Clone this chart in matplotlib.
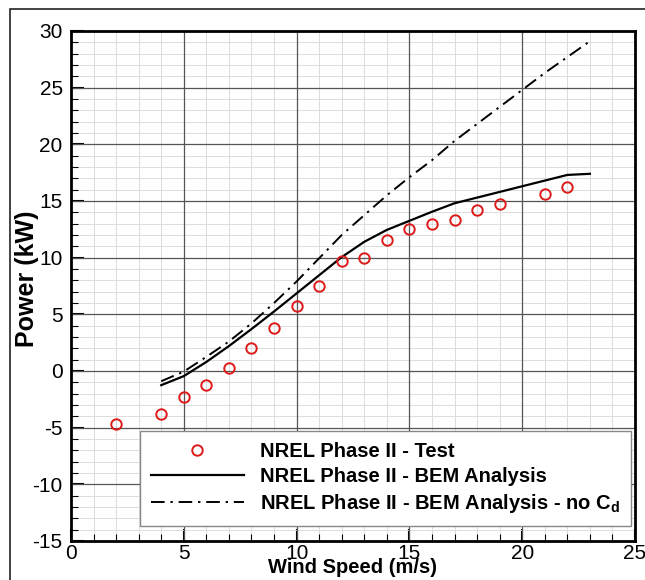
import matplotlib
matplotlib.use("Agg")
import matplotlib.pyplot as plt
from matplotlib.ticker import MultipleLocator
from matplotlib.patches import Rectangle

# Data
test_x = [2, 4, 5, 6, 7, 8, 9, 10, 11, 12, 13, 14, 15, 16, 17, 18, 19, 21, 22]
test_y = [-4.65, -3.8, -2.3, -1.2, 0.3, 2.05, 3.78, 5.73, 7.52, 9.7, 9.95, 11.55,
          12.55, 12.94, 13.3, 14.23, 14.73, 15.6, 16.2]

bem_x = [4, 5, 6, 7, 8, 9, 10, 11, 12, 13, 14, 15, 16, 17, 18, 19, 20, 21, 22, 23]
bem_y = [-1.25, -0.45, 0.8, 2.2, 3.7, 5.25, 6.85, 8.45, 10.05, 11.4, 12.45, 13.25,
         14.05, 14.8, 15.3, 15.8, 16.3, 16.8, 17.3, 17.4]

nocd_x = [4, 5, 6, 7, 8, 9, 10, 11, 12, 13, 14, 15, 16, 17, 18, 19, 20, 21, 22, 23]
nocd_y = [-0.9, -0.05, 1.25, 2.6, 4.2, 6.0, 7.9, 9.95, 12.0, 13.75, 15.5, 17.1,
          18.6, 20.3, 21.8, 23.3, 24.8, 26.3, 27.7, 29.1]

labels = ["NREL Phase II - Test", "NREL Phase II - BEM Analysis",
          "NREL Phase II - BEM Analysis - no C$_\\mathregular{d}$"]

plt.rcParams['font.family'] = ['Liberation Sans', 'DejaVu Sans']
plt.rcParams['mathtext.fontset'] = 'custom'
plt.rcParams['mathtext.rm'] = 'Liberation Sans:bold'
plt.rcParams['axes.unicode_minus'] = False

fig = plt.figure(figsize=(6.45, 5.8), dpi=100)
fig.patches.append(Rectangle((10 / 645, -0.1), 1.2, 1 - 9 / 580 + 0.1,
                             transform=fig.transFigure, fill=False,
                             edgecolor='#222222', linewidth=1.2, zorder=0))
ax = fig.add_axes([71 / 645, 1 - 541 / 580, 564 / 645, 510 / 580])

ax.plot(test_x, test_y, linestyle='none', marker='o', markersize=7.5,
        markerfacecolor='none', markeredgecolor='#dd1a1a', markeredgewidth=1.4,
        label=labels[0], zorder=4)
ax.plot(bem_x, bem_y, color='black', linewidth=1.6, label=labels[1], zorder=3)
ax.plot(nocd_x, nocd_y, color='black', linewidth=1.4,
        linestyle=(0, (7, 3, 1.2, 3)), label=labels[2], zorder=3)

ax.set_xlim(0, 25)
ax.set_ylim(-15, 30)
ax.xaxis.set_major_locator(MultipleLocator(5))
ax.yaxis.set_major_locator(MultipleLocator(5))
ax.xaxis.set_minor_locator(MultipleLocator(1))
ax.yaxis.set_minor_locator(MultipleLocator(1))

# minor grid (below), major grid drawn on top of it
ax.grid(which='minor', color='#dcdcdc', linewidth=0.7)
ax.set_axisbelow(True)
for xv in ax.get_xticks():
    if 0 < xv < 25:
        ax.axvline(xv, color='#555555', linewidth=0.9, zorder=1)
for yv in ax.get_yticks():
    if -15 < yv < 30:
        ax.axhline(yv, color='#555555', linewidth=0.9, zorder=1)

for s in ax.spines.values():
    s.set_linewidth(2.0)
    s.set_color('black')

ax.tick_params(which='major', direction='in', length=9, width=1.5,
               labelsize=15, top=False, right=False)
ax.tick_params(which='minor', direction='in', length=5, width=0.8,
               top=False, right=False)
ax.tick_params(axis='x', which='major', pad=2.5)
ax.tick_params(axis='y', which='major', pad=6)

ax.set_xlabel('Wind Speed (m/s)', fontsize=14.5, fontweight='bold')
ax.set_ylabel('Power (kW)', fontsize=18, fontweight='bold')
ax.xaxis.set_label_coords(0.5, -0.033)
ax.yaxis.set_label_coords(-0.057, 0.515)

leg = ax.legend(loc='lower left', bbox_to_anchor=(0.1223, 0.0294),
                borderaxespad=0, fancybox=False, framealpha=1,
                edgecolor='#888888', prop={'weight': 'bold', 'size': 14.5},
                handlelength=4.6, handletextpad=0.8, labelspacing=0.3,
                borderpad=0.55)
leg.get_frame().set_linewidth(1.0)
leg.set_zorder(5)

fig.savefig('out.png', dpi=100)
